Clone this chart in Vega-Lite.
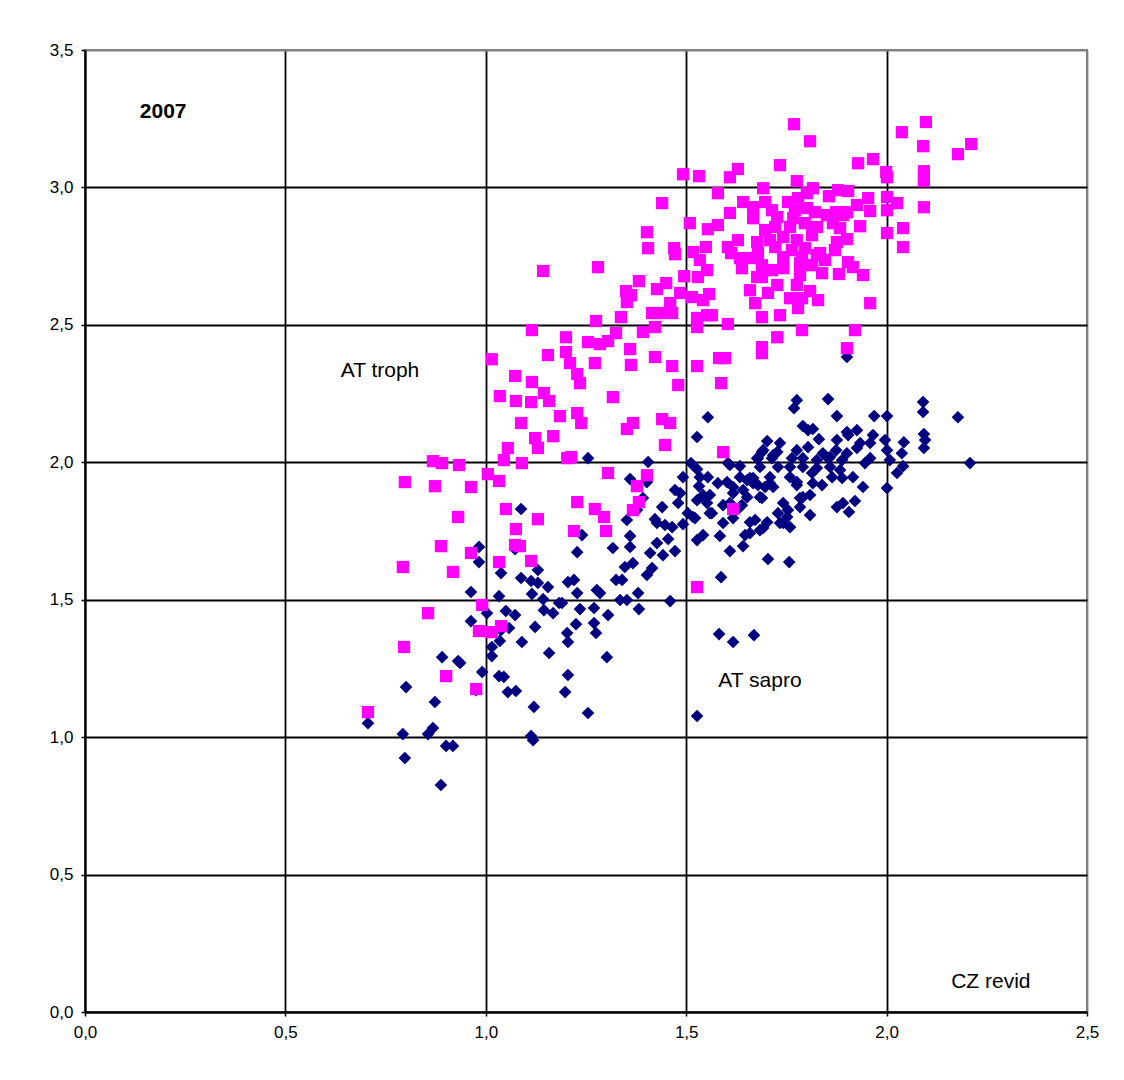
{
"$schema": "https://vega.github.io/schema/vega-lite/v6.json",
"width": 1002, "height": 962,
"autosize": {"type": "none"},
"padding": {"left": 85, "top": 50, "right": 37, "bottom": 68},
"background": "white",
"config": {"view": {"stroke": "#808080", "strokeWidth": 2}, "font": "Liberation Sans"},
"datasets": {
"sapro": [
{"cz":0.983,"at":1.692},{"cz":0.983,"at":1.637},{"cz":1.073,"at":1.684},{"cz":1.038,"at":1.597},{"cz":1.130,"at":1.608},{"cz":1.088,"at":1.579},{"cz":1.113,"at":1.568},{"cz":1.130,"at":1.561},{"cz":1.155,"at":1.546},{"cz":1.205,"at":1.564},
{"cz":0.963,"at":1.528},{"cz":1.033,"at":1.513},{"cz":1.115,"at":1.521},{"cz":1.143,"at":1.502},{"cz":1.183,"at":1.488},{"cz":1.145,"at":1.462},{"cz":1.168,"at":1.451},{"cz":1.003,"at":1.451},{"cz":1.050,"at":1.459},{"cz":1.073,"at":1.444},
{"cz":0.963,"at":1.422},{"cz":1.058,"at":1.397},{"cz":1.038,"at":1.390},{"cz":1.123,"at":1.401},{"cz":1.203,"at":1.379},{"cz":1.035,"at":1.350},{"cz":1.015,"at":1.328},{"cz":1.090,"at":1.346},{"cz":1.015,"at":1.295},{"cz":1.158,"at":1.306},
{"cz":0.891,"at":1.291},{"cz":0.931,"at":1.277},{"cz":0.936,"at":1.270},{"cz":0.991,"at":1.237},{"cz":1.033,"at":1.222},{"cz":1.045,"at":1.219},{"cz":1.205,"at":1.226},{"cz":0.801,"at":1.182},{"cz":1.055,"at":1.164},{"cz":1.075,"at":1.168},
{"cz":1.198,"at":1.164},{"cz":0.873,"at":1.128},{"cz":1.120,"at":1.110},{"cz":0.976,"at":1.171},{"cz":0.706,"at":1.051},{"cz":0.793,"at":1.011},{"cz":0.856,"at":1.011},{"cz":0.868,"at":1.033},{"cz":0.901,"at":0.968},{"cz":0.918,"at":0.968},
{"cz":1.113,"at":1.004},{"cz":1.118,"at":0.989},{"cz":0.798,"at":0.924},{"cz":0.888,"at":0.826},{"cz":1.088,"at":1.830},
{"cz":1.554,"at":2.164},{"cz":1.527,"at":2.092},{"cz":1.255,"at":2.015},{"cz":1.405,"at":2.001},{"cz":1.512,"at":1.997},{"cz":1.527,"at":1.975},{"cz":1.604,"at":1.997},{"cz":1.634,"at":1.986},{"cz":1.679,"at":2.015},{"cz":1.492,"at":1.946},
{"cz":1.534,"at":1.946},{"cz":1.554,"at":1.946},{"cz":1.579,"at":1.924},{"cz":1.602,"at":1.928},{"cz":1.634,"at":1.946},{"cz":1.652,"at":1.935},{"cz":1.667,"at":1.924},{"cz":1.360,"at":1.939},{"cz":1.402,"at":1.928},{"cz":1.532,"at":1.913},
{"cz":1.472,"at":1.899},{"cz":1.485,"at":1.888},{"cz":1.542,"at":1.881},{"cz":1.559,"at":1.881},{"cz":1.617,"at":1.888},{"cz":1.527,"at":1.862},{"cz":1.392,"at":1.870},{"cz":1.440,"at":1.837},{"cz":1.480,"at":1.852},{"cz":1.552,"at":1.852},
{"cz":1.592,"at":1.844},{"cz":1.639,"at":1.844},{"cz":1.377,"at":1.826},{"cz":1.504,"at":1.815},{"cz":1.522,"at":1.797},{"cz":1.564,"at":1.815},{"cz":1.352,"at":1.790},{"cz":1.422,"at":1.793},{"cz":1.427,"at":1.779},{"cz":1.447,"at":1.772},
{"cz":1.465,"at":1.764},{"cz":1.492,"at":1.775},{"cz":1.592,"at":1.779},{"cz":1.617,"at":1.797},{"cz":1.659,"at":1.782},{"cz":1.240,"at":1.735},{"cz":1.360,"at":1.732},{"cz":1.455,"at":1.721},{"cz":1.527,"at":1.717},{"cz":1.542,"at":1.735},
{"cz":1.584,"at":1.732},{"cz":1.647,"at":1.735},{"cz":1.427,"at":1.706},{"cz":1.360,"at":1.692},{"cz":1.317,"at":1.688},{"cz":1.228,"at":1.673},{"cz":1.410,"at":1.670},{"cz":1.442,"at":1.662},{"cz":1.472,"at":1.677},{"cz":1.609,"at":1.677},
{"cz":1.642,"at":1.695},{"cz":1.367,"at":1.633},{"cz":1.347,"at":1.619},{"cz":1.415,"at":1.615},{"cz":1.402,"at":1.590},{"cz":1.325,"at":1.572},{"cz":1.340,"at":1.572},{"cz":1.220,"at":1.572},{"cz":1.277,"at":1.535},{"cz":1.285,"at":1.524},
{"cz":1.228,"at":1.524},{"cz":1.380,"at":1.524},{"cz":1.335,"at":1.499},{"cz":1.352,"at":1.499},{"cz":1.460,"at":1.495},{"cz":1.587,"at":1.582},{"cz":1.190,"at":1.488},{"cz":1.235,"at":1.466},{"cz":1.270,"at":1.470},{"cz":1.382,"at":1.466},
{"cz":1.305,"at":1.444},{"cz":1.225,"at":1.411},{"cz":1.270,"at":1.415},{"cz":1.275,"at":1.379},{"cz":1.205,"at":1.346},{"cz":1.302,"at":1.291},{"cz":1.255,"at":1.088},{"cz":1.582,"at":1.375},{"cz":1.617,"at":1.346},{"cz":1.669,"at":1.371},
{"cz":1.527,"at":1.077},
{"cz":1.776,"at":2.226},{"cz":1.769,"at":2.197},{"cz":1.854,"at":2.230},{"cz":1.876,"at":2.168},{"cz":1.969,"at":2.168},{"cz":2.001,"at":2.168},{"cz":2.091,"at":2.219},{"cz":2.091,"at":2.183},{"cz":2.178,"at":2.164},{"cz":1.791,"at":2.132},
{"cz":1.804,"at":2.117},{"cz":1.816,"at":2.121},{"cz":1.831,"at":2.084},{"cz":1.904,"at":2.099},{"cz":1.926,"at":2.117},{"cz":1.966,"at":2.099},{"cz":1.702,"at":2.077},{"cz":1.734,"at":2.070},{"cz":1.934,"at":2.070},{"cz":1.959,"at":2.070},
{"cz":1.996,"at":2.081},{"cz":2.043,"at":2.073},{"cz":2.093,"at":2.103},{"cz":2.096,"at":2.081},{"cz":2.093,"at":2.052},{"cz":1.692,"at":2.044},{"cz":1.727,"at":2.037},{"cz":1.776,"at":2.044},{"cz":1.804,"at":2.055},{"cz":1.841,"at":2.033},
{"cz":1.874,"at":2.044},{"cz":1.901,"at":2.033},{"cz":1.926,"at":2.052},{"cz":2.001,"at":2.044},{"cz":2.038,"at":2.033},{"cz":1.677,"at":2.015},{"cz":1.714,"at":2.015},{"cz":1.764,"at":2.015},{"cz":1.791,"at":2.015},{"cz":1.826,"at":2.008},
{"cz":1.854,"at":2.015},{"cz":1.889,"at":2.008},{"cz":1.959,"at":2.015},{"cz":2.008,"at":2.008},{"cz":2.208,"at":1.997},{"cz":1.684,"at":1.983},{"cz":1.729,"at":1.983},{"cz":1.759,"at":1.983},{"cz":1.791,"at":1.983},{"cz":1.826,"at":1.979},
{"cz":1.859,"at":1.983},{"cz":1.884,"at":1.972},{"cz":1.946,"at":1.997},{"cz":2.041,"at":1.986},{"cz":2.026,"at":1.961},{"cz":1.667,"at":1.943},{"cz":1.709,"at":1.946},{"cz":1.759,"at":1.946},{"cz":1.814,"at":1.961},{"cz":1.864,"at":1.946},
{"cz":1.916,"at":1.946},{"cz":1.679,"at":1.917},{"cz":1.717,"at":1.910},{"cz":1.776,"at":1.917},{"cz":1.816,"at":1.924},{"cz":1.839,"at":1.917},{"cz":1.889,"at":1.943},{"cz":1.941,"at":1.910},{"cz":2.001,"at":1.906},{"cz":1.689,"at":1.870},
{"cz":1.742,"at":1.852},{"cz":1.784,"at":1.870},{"cz":1.809,"at":1.881},{"cz":1.891,"at":1.852},{"cz":1.921,"at":1.859},{"cz":1.729,"at":1.815},{"cz":1.754,"at":1.826},{"cz":1.784,"at":1.837},{"cz":1.809,"at":1.808},{"cz":1.906,"at":1.819},
{"cz":1.672,"at":1.790},{"cz":1.742,"at":1.779},{"cz":1.759,"at":1.764},{"cz":1.692,"at":1.761},{"cz":1.659,"at":1.742},{"cz":1.704,"at":1.648},{"cz":1.757,"at":1.637},
{"cz":1.689,"at":2.037},{"cz":1.717,"at":2.026},{"cz":1.609,"at":1.990},{"cz":1.659,"at":1.943},{"cz":1.697,"at":1.910},{"cz":1.617,"at":1.910},{"cz":1.642,"at":1.899},{"cz":1.684,"at":1.873},{"cz":1.709,"at":1.924},{"cz":1.776,"at":1.928},
{"cz":1.791,"at":1.873},{"cz":1.559,"at":1.815},{"cz":1.609,"at":1.852},{"cz":1.634,"at":1.837},{"cz":1.652,"at":1.873},{"cz":1.752,"at":1.801},{"cz":1.517,"at":1.801},{"cz":1.702,"at":1.782},{"cz":1.734,"at":1.779},{"cz":1.876,"at":1.837},
{"cz":1.684,"at":1.753},{"cz":1.901,"at":2.110},{"cz":1.876,"at":2.081},{"cz":1.859,"at":2.019},{"cz":1.901,"at":2.383}
],
"troph": [
{"cz":0.706,"at":1.091},{"cz":0.796,"at":1.328},{"cz":0.793,"at":1.619},{"cz":0.798,"at":1.928},{"cz":0.856,"at":1.451},{"cz":0.868,"at":2.004},{"cz":0.891,"at":1.997},{"cz":0.873,"at":1.913},{"cz":0.888,"at":1.695},{"cz":0.901,"at":1.222},
{"cz":0.918,"at":1.601},{"cz":0.931,"at":1.801},{"cz":0.933,"at":1.990},{"cz":0.963,"at":1.670},{"cz":0.963,"at":1.910},{"cz":0.976,"at":1.175},{"cz":0.983,"at":1.386},{"cz":0.991,"at":1.481},{"cz":1.005,"at":1.957},{"cz":1.015,"at":1.382},
{"cz":1.015,"at":2.375},{"cz":1.033,"at":1.932},{"cz":1.035,"at":2.241},{"cz":1.033,"at":1.637},{"cz":1.038,"at":1.404},{"cz":1.045,"at":2.008},{"cz":1.050,"at":1.830},{"cz":1.055,"at":2.052},{"cz":1.073,"at":2.314},{"cz":1.075,"at":2.223},
{"cz":1.075,"at":1.757},{"cz":1.073,"at":1.699},{"cz":1.085,"at":1.695},{"cz":1.088,"at":2.143},{"cz":1.090,"at":1.997},{"cz":1.113,"at":2.219},{"cz":1.113,"at":1.641},{"cz":1.115,"at":2.292},{"cz":1.115,"at":2.481},{"cz":1.123,"at":2.088},
{"cz":1.130,"at":1.793},{"cz":1.130,"at":2.052},{"cz":1.145,"at":2.252},{"cz":1.143,"at":2.696},{"cz":1.155,"at":2.390},{"cz":1.158,"at":2.223},{"cz":1.168,"at":2.095},{"cz":1.185,"at":2.168},{"cz":1.200,"at":2.401},{"cz":1.200,"at":2.455},
{"cz":1.203,"at":2.015},{"cz":1.210,"at":2.361},{"cz":1.213,"at":2.019},{"cz":1.220,"at":1.750},{"cz":1.228,"at":2.321},{"cz":1.228,"at":2.179},{"cz":1.228,"at":1.855},{"cz":1.235,"at":2.288},{"cz":1.238,"at":2.143},{"cz":1.255,"at":2.437},
{"cz":1.272,"at":2.361},{"cz":1.272,"at":1.830},{"cz":1.275,"at":2.514},{"cz":1.280,"at":2.710},{"cz":1.285,"at":2.430},{"cz":1.295,"at":1.801},{"cz":1.300,"at":1.750},{"cz":1.305,"at":2.441},{"cz":1.305,"at":1.961},{"cz":1.317,"at":2.237},
{"cz":1.325,"at":2.470},{"cz":1.337,"at":2.528},{"cz":1.350,"at":2.623},{"cz":1.352,"at":2.583},{"cz":1.352,"at":2.121},{"cz":1.360,"at":2.412},{"cz":1.362,"at":2.608},{"cz":1.362,"at":2.354},{"cz":1.367,"at":2.143},{"cz":1.367,"at":1.826},
{"cz":1.377,"at":1.913},{"cz":1.382,"at":1.855},{"cz":1.382,"at":2.659},{"cz":1.392,"at":2.474},{"cz":1.402,"at":2.837},{"cz":1.402,"at":1.953},{"cz":1.405,"at":2.779},{"cz":1.415,"at":2.543},{"cz":1.422,"at":2.492},{"cz":1.422,"at":2.383},
{"cz":1.427,"at":2.630},{"cz":1.435,"at":2.543},{"cz":1.440,"at":2.943},{"cz":1.440,"at":2.157},{"cz":1.447,"at":2.063},{"cz":1.450,"at":2.652},{"cz":1.460,"at":2.579},{"cz":1.460,"at":2.143},{"cz":1.465,"at":2.543},{"cz":1.465,"at":2.350},
{"cz":1.470,"at":2.779},{"cz":1.472,"at":2.757},{"cz":1.480,"at":2.281},{"cz":1.485,"at":2.616},{"cz":1.492,"at":3.048},{"cz":1.495,"at":2.677},{"cz":1.509,"at":2.870},{"cz":1.514,"at":2.601},{"cz":1.517,"at":2.765},{"cz":1.527,"at":2.525},
{"cz":1.527,"at":2.492},{"cz":1.527,"at":2.350},{"cz":1.527,"at":1.546},{"cz":1.529,"at":2.674},{"cz":1.532,"at":3.041},{"cz":1.534,"at":2.736},{"cz":1.542,"at":2.590},{"cz":1.549,"at":2.783},{"cz":1.552,"at":2.699},{"cz":1.552,"at":2.535},
{"cz":1.554,"at":2.848},{"cz":1.557,"at":2.612},{"cz":1.564,"at":2.535},{"cz":1.579,"at":2.979},{"cz":1.579,"at":2.863},{"cz":1.582,"at":2.379},{"cz":1.587,"at":2.288},{"cz":1.592,"at":2.037},{"cz":1.597,"at":2.379},{"cz":1.604,"at":2.783},
{"cz":1.604,"at":2.503},{"cz":1.609,"at":3.037},{"cz":1.609,"at":2.907},{"cz":1.612,"at":2.761},{"cz":1.617,"at":1.830},{"cz":1.629,"at":3.067},{"cz":1.629,"at":2.808},{"cz":1.634,"at":2.743},{"cz":1.639,"at":2.706},{"cz":1.642,"at":2.947},
{"cz":1.659,"at":2.743},{"cz":1.659,"at":2.626},{"cz":1.667,"at":2.928},{"cz":1.667,"at":2.888},{"cz":1.672,"at":2.579},{"cz":1.677,"at":2.801},{"cz":1.677,"at":2.674},{"cz":1.679,"at":2.761},{"cz":1.689,"at":2.717},{"cz":1.689,"at":2.674},
{"cz":1.689,"at":2.528},{"cz":1.689,"at":2.419},{"cz":1.689,"at":2.397},{"cz":1.692,"at":2.997},{"cz":1.697,"at":2.947},{"cz":1.704,"at":2.616},{"cz":1.709,"at":2.808},{"cz":1.714,"at":2.917},{"cz":1.714,"at":2.699},{"cz":1.722,"at":2.856},
{"cz":1.722,"at":2.783},{"cz":1.727,"at":2.892},{"cz":1.727,"at":2.645},{"cz":1.727,"at":2.455},{"cz":1.734,"at":3.081},{"cz":1.734,"at":2.535},{"cz":1.742,"at":2.819},{"cz":1.742,"at":2.746},{"cz":1.742,"at":2.706},{"cz":1.754,"at":2.947},
{"cz":1.759,"at":2.856},{"cz":1.759,"at":2.597},{"cz":1.764,"at":2.772},{"cz":1.767,"at":2.888},{"cz":1.769,"at":3.230},{"cz":1.776,"at":3.023},{"cz":1.776,"at":2.808},{"cz":1.776,"at":2.645},{"cz":1.779,"at":2.961},{"cz":1.779,"at":2.561},
{"cz":1.784,"at":2.725},{"cz":1.784,"at":2.681},{"cz":1.789,"at":2.746},{"cz":1.789,"at":2.597},{"cz":1.789,"at":2.481},{"cz":1.796,"at":2.870},{"cz":1.796,"at":2.779},{"cz":1.801,"at":2.979},{"cz":1.801,"at":2.925},{"cz":1.809,"at":3.168},
{"cz":1.814,"at":2.826},{"cz":1.814,"at":2.717},{"cz":1.816,"at":2.997},{"cz":1.821,"at":2.910},{"cz":1.826,"at":2.856},{"cz":1.826,"at":2.754},{"cz":1.834,"at":2.761},{"cz":1.839,"at":2.688},{"cz":1.851,"at":2.899},{"cz":1.856,"at":2.968},
{"cz":1.866,"at":2.870},{"cz":1.871,"at":2.772},{"cz":1.874,"at":2.910},{"cz":1.876,"at":2.801},{"cz":1.879,"at":2.990},{"cz":1.881,"at":2.685},{"cz":1.884,"at":2.852},{"cz":1.891,"at":2.899},{"cz":1.901,"at":2.910},{"cz":1.901,"at":2.812},
{"cz":1.901,"at":2.415},{"cz":1.904,"at":2.987},{"cz":1.904,"at":2.728},{"cz":1.916,"at":2.710},{"cz":1.921,"at":2.481},{"cz":1.926,"at":2.936},{"cz":1.929,"at":3.088},{"cz":1.934,"at":2.859},{"cz":1.941,"at":2.681},{"cz":1.954,"at":2.961},
{"cz":1.959,"at":2.914},{"cz":1.959,"at":2.579},{"cz":1.966,"at":3.103},{"cz":1.999,"at":3.056},{"cz":2.001,"at":3.037},{"cz":2.001,"at":2.965},{"cz":2.001,"at":2.917},{"cz":2.001,"at":2.834},{"cz":2.026,"at":2.943},{"cz":2.038,"at":3.201},
{"cz":2.041,"at":2.852},{"cz":2.041,"at":2.783},{"cz":2.091,"at":3.150},{"cz":2.093,"at":3.059},{"cz":2.093,"at":3.023},{"cz":2.093,"at":2.928},{"cz":2.098,"at":3.238},{"cz":2.178,"at":3.121},{"cz":2.211,"at":3.158},
{"cz":1.697,"at":2.845},{"cz":1.809,"at":2.623},{"cz":1.846,"at":2.736},{"cz":1.771,"at":2.917},{"cz":1.829,"at":2.590}
],
"notes": [
{"label": "AT troph", "x": 0.736, "y": 2.332},
{"label": "AT sapro", "x": 1.684, "y": 1.204},
{"label": "CZ revid", "x": 2.26, "y": 0.11}
],
"year": [
{"label": "2007", "x": 0.195, "y": 3.274}
]
},
"layer": [
{
"data": {"name": "sapro"},
"mark": {"type": "point", "shape": "diamond", "filled": true, "opacity": 1, "color": "#000080", "size": 160, "strokeWidth": 0},
"encoding": {
"x": {"field": "cz", "type": "quantitative", "scale": {"domain": [0, 2.5], "nice": false, "zero": false},
"axis": {"values": [0, 0.5, 1, 1.5, 2, 2.5], "title": null, "grid": true,
"gridColor": {"condition": {"test": "datum.value == 2.5", "value": "#808080"}, "value": "black"},
"gridWidth": 1.8, "domainColor": "black", "domainWidth": 2, "tickColor": "black", "tickSize": 4, "tickWidth": 1.5,
"labelFontSize": 17, "labelFont": "Liberation Sans", "labelColor": "black", "labelPadding": 8, "labelFlush": false, "labelOverlap": false,
"labelExpr": "replace(format(datum.value, '.1f'), '.', ',')"}},
"y": {"field": "at", "type": "quantitative", "scale": {"domain": [0, 3.5], "nice": false, "zero": false},
"axis": {"values": [0, 0.5, 1, 1.5, 2, 2.5, 3, 3.5], "title": null, "grid": true,
"gridColor": {"condition": {"test": "datum.value == 3.5", "value": "#808080"}, "value": "black"},
"gridWidth": 1.8, "domainColor": "black", "domainWidth": 2, "tickColor": "black", "tickSize": 4, "tickWidth": 1.5,
"labelFontSize": 17, "labelFont": "Liberation Sans", "labelColor": "black", "labelPadding": 8, "labelFlush": false, "labelOverlap": false,
"labelExpr": "replace(format(datum.value, '.1f'), '.', ',')"}}
}
},
{
"data": {"name": "troph"},
"mark": {"type": "point", "shape": "square", "filled": true, "opacity": 1, "color": "#FF00FF", "size": 150, "strokeWidth": 0},
"encoding": {
"x": {"field": "cz", "type": "quantitative"},
"y": {"field": "at", "type": "quantitative"}
}
},
{
"data": {"name": "notes"},
"mark": {"type": "text", "fontSize": 21, "font": "Liberation Sans", "color": "black", "align": "center", "baseline": "middle"},
"encoding": {
"x": {"field": "x", "type": "quantitative"},
"y": {"field": "y", "type": "quantitative"},
"text": {"field": "label"}
}
},
{
"data": {"name": "year"},
"mark": {"type": "text", "fontSize": 21, "fontWeight": "bold", "font": "Liberation Sans", "color": "black", "align": "center", "baseline": "middle"},
"encoding": {
"x": {"field": "x", "type": "quantitative"},
"y": {"field": "y", "type": "quantitative"},
"text": {"field": "label"}
}
}
]
}
